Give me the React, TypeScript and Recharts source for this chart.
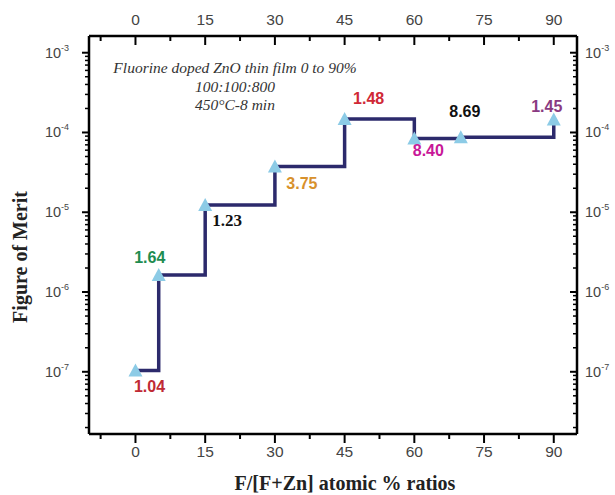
import React from 'react';
import { LineChart, Line, XAxis, YAxis, LabelList } from 'recharts';

// F/[F+Zn] atomic % and figure of merit (Ω^-1) per film
const fluorinePct = [0, 5, 15, 30, 45, 60, 70, 90];
const figureOfMerit = [1.04e-7, 1.64e-6, 1.23e-5, 3.75e-5, 1.48e-4, 8.4e-5, 8.69e-5, 1.45e-4];
const pointLabels = ['1.04', '1.64', '1.23', '3.75', '1.48', '8.40', '8.69', '1.45'];

const xTicks = [0, 15, 30, 45, 60, 75, 90];
const yDecades = [1e-7, 1e-6, 1e-5, 1e-4, 1e-3];
const yExponents = ['-7', '-6', '-5', '-4', '-3'];
const annotationLines = ['Fluorine doped ZnO thin film 0 to 90%', '100:100:800', '450°C-8 min'];

// label look, one per point
const labelColors = ['#c02a35', '#1e8c50', '#111111', '#d8912c', '#d02836', '#c81898', '#111111', '#8a3a82'];
const labelOffsets: [number, number][] = [
  [14, 16],
  [-9, -17],
  [22, 15],
  [27, 17],
  [24, -20],
  [14, 12],
  [4, -26],
  [-7, -13],
];

const X_DOMAIN: [number, number] = [-10, 95];
const Y_DOMAIN: [number, number] = [1.66e-8, 1.62e-3];

const data = fluorinePct.map((x, i) => ({ x, fom: figureOfMerit[i], label: pointLabels[i] }));

const xAllTicks = [...xTicks.map((t) => t - 7.5), ...xTicks].sort((a, b) => a - b);
const yAllTicks: number[] = [...yDecades];
[1e-8, ...yDecades].forEach((d) => {
  for (let m = 2; m <= 9; m++) {
    const v = m * d;
    if (v > Y_DOMAIN[0] && v < Y_DOMAIN[1]) yAllTicks.push(v);
  }
});
yAllTicks.sort((a, b) => a - b);

const isDecade = (v: number) => Math.abs(Math.log10(v) - Math.round(Math.log10(v))) < 1e-6;
const expOf = (v: number) => yExponents[yDecades.findIndex((d) => Math.abs(d - v) / d < 1e-6)];

const TICK_FONT = 'Liberation Sans, Arial, sans-serif';
const SERIF = 'Liberation Serif, Times New Roman, serif';

function BottomTick({ x, y, payload }: any) {
  const major = xTicks.includes(payload.value);
  return (
    <g>
      <line x1={x} y1={y} x2={x} y2={y + (major ? 9 : 5)} stroke="#000" strokeWidth={2} />
      {major && (
        <text x={x} y={y + 23} textAnchor="middle" fontSize={15.5} fontFamily={TICK_FONT} fill="#444">
          {payload.value}
        </text>
      )}
    </g>
  );
}

function TopTick({ x, y, payload }: any) {
  const major = xTicks.includes(payload.value);
  return (
    <g>
      <line x1={x} y1={y} x2={x} y2={y + (major ? 9 : 5)} stroke="#000" strokeWidth={2} />
      {major && (
        <text x={x} y={y - 11} textAnchor="middle" fontSize={15.5} fontFamily={TICK_FONT} fill="#444">
          {payload.value}
        </text>
      )}
    </g>
  );
}

function LeftTick({ x, y, payload }: any) {
  const major = isDecade(payload.value);
  return (
    <g>
      <line x1={x} y1={y} x2={x - (major ? 7 : 4)} y2={y} stroke="#000" strokeWidth={major ? 2 : 1.5} />
      {major && (
        <text x={x - 32} y={y + 5} textAnchor="middle" fontSize={14.5} fontFamily={TICK_FONT} fill="#444">
          10
          <tspan fontSize={9} dy={-7}>
            {expOf(payload.value)}
          </tspan>
        </text>
      )}
    </g>
  );
}

function RightTick({ x, y, payload }: any) {
  const major = isDecade(payload.value);
  return (
    <g>
      <line x1={x} y1={y} x2={x - (major ? 7 : 4)} y2={y} stroke="#000" strokeWidth={major ? 2 : 1.5} />
      {major && (
        <text x={x + 8} y={y + 5} textAnchor="start" fontSize={14.5} fontFamily={TICK_FONT} fill="#444">
          10
          <tspan fontSize={9} dy={-7}>
            {expOf(payload.value)}
          </tspan>
        </text>
      )}
    </g>
  );
}

function TriangleDot({ cx, cy, index }: any) {
  if (cx == null || cy == null) return <g key={`dot-${index}`} />;
  return (
    <polygon
      key={`dot-${index}`}
      points={`${cx},${cy - 7} ${cx - 7},${cy + 6} ${cx + 7},${cy + 6}`}
      fill="#8ccbe6"
    />
  );
}

function PointLabel({ x, y, index, value }: any) {
  const [dx, dy] = labelOffsets[index];
  const serif = index === 2;
  return (
    <text
      x={x + dx}
      y={y + dy}
      textAnchor="middle"
      dominantBaseline="central"
      fontSize={serif ? 17 : 16}
      fontWeight="bold"
      fontFamily={serif ? SERIF : TICK_FONT}
      fill={labelColors[index]}
    >
      {value}
    </text>
  );
}

export default function App() {
  return (
    <div style={{ position: 'absolute', left: 0, top: 0, background: '#fff' }}>
      <LineChart width={615} height={495} data={data} margin={{ top: 0, right: 0, bottom: 0, left: 0 }}>
        <XAxis
          xAxisId="bottom"
          orientation="bottom"
          dataKey="x"
          type="number"
          domain={X_DOMAIN}
          allowDataOverflow
          ticks={xAllTicks}
          interval={0}
          tickSize={0}
          tickMargin={0}
          tickLine={false}
          tick={BottomTick}
          height={61}
          axisLine={{ stroke: '#000', strokeWidth: 2.5 }}
          label={{
            content: () => (
              <text x={345} y={490} textAnchor="middle" fontSize={20} fontWeight="bold" fontFamily={SERIF} fill="#222">
                F/[F+Zn] atomic % ratios
              </text>
            ),
          }}
        />
        <XAxis
          xAxisId="top"
          orientation="top"
          dataKey="x"
          type="number"
          domain={X_DOMAIN}
          allowDataOverflow
          ticks={xAllTicks}
          interval={0}
          tickSize={0}
          tickMargin={0}
          tickLine={false}
          tick={TopTick}
          height={36}
          axisLine={{ stroke: '#000', strokeWidth: 2.5 }}
          label={{
            content: () => (
              <g fontFamily={SERIF} fontStyle="italic" fontSize={15.5} fill="#333" textAnchor="middle">
                {annotationLines.map((t, i) => (
                  <text key={t} x={235} y={73 + i * 18.5}>
                    {t}
                  </text>
                ))}
              </g>
            ),
          }}
        />
        <YAxis
          yAxisId="left"
          orientation="left"
          type="number"
          scale="log"
          domain={Y_DOMAIN}
          allowDataOverflow
          ticks={yAllTicks}
          interval={0}
          tickSize={0}
          tickMargin={0}
          tickLine={false}
          tick={LeftTick}
          width={89}
          axisLine={{ stroke: '#000', strokeWidth: 2.5 }}
          label={{
            content: () => (
              <text
                x={20}
                y={257}
                transform="rotate(-90 20 257)"
                textAnchor="middle"
                dominantBaseline="central"
                fontSize={20}
                fontWeight="bold"
                fontFamily={SERIF}
                fill="#222"
              >
                Figure of Merit
              </text>
            ),
          }}
        />
        <YAxis
          yAxisId="right"
          orientation="right"
          type="number"
          scale="log"
          domain={Y_DOMAIN}
          allowDataOverflow
          ticks={yAllTicks}
          interval={0}
          tickSize={0}
          tickMargin={0}
          tickLine={false}
          tick={RightTick}
          width={38}
          axisLine={{ stroke: '#000', strokeWidth: 2.5 }}
        />
        <Line
          xAxisId="bottom"
          yAxisId="left"
          type="stepAfter"
          dataKey="fom"
          stroke="#2c2a6c"
          strokeWidth={3.5}
          dot={TriangleDot}
          activeDot={false}
          isAnimationActive={false}
        >
          <LabelList dataKey="label" content={PointLabel} />
        </Line>
      </LineChart>
    </div>
  );
}
